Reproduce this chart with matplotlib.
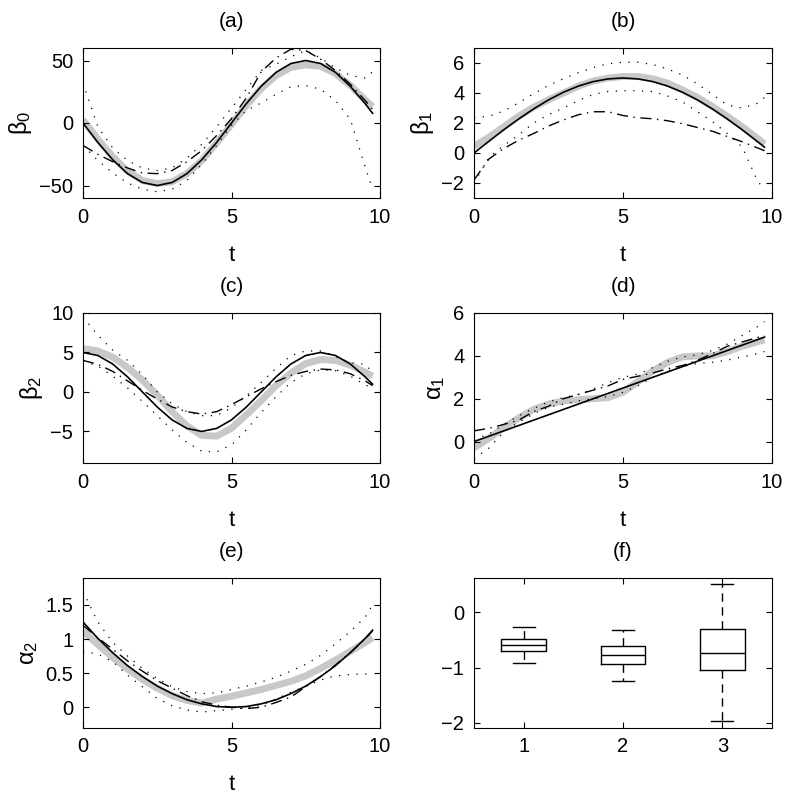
import matplotlib
matplotlib.use('Agg')
import matplotlib.pyplot as plt

plt.rcParams['font.family'] = ['Liberation Sans', 'DejaVu Sans']
plt.rcParams['mathtext.fontset'] = 'custom'
plt.rcParams['mathtext.rm'] = 'Liberation Sans'
plt.rcParams['mathtext.it'] = 'Liberation Sans'
plt.rcParams['mathtext.default'] = 'regular'

# time grid shared by the curve panels
t = [0, 0.5, 1, 1.5, 2, 2.5, 3, 3.5, 4, 4.5, 5, 5.5, 6, 6.5, 7, 7.5, 8, 8.5, 9, 9.5, 9.75]

# (a) beta_0
b0_true = [0, -15.5, -29.4, -40.5, -47.6, -50, -47.6, -40.5, -29.4, -15.5, 0,
           15.5, 29.4, 40.5, 47.6, 50, 47.6, 40.5, 29.4, 15.5, 7.8]
b0_mean = [2.5, -13, -27, -38.5, -46, -48.5, -47, -40.5, -30, -16, -1,
           14, 27.5, 38, 44.5, 46.5, 45.5, 39.5, 30, 18.5, 13]
b0_alt = [-18, -25, -31, -36, -40, -40.5, -38, -31, -22, -10, 3.5,
          20, 41, 52, 59, 58, 51, 42, 31, 18, 11]
b0_up = [32, -3, -20, -30, -36, -38, -36, -28, -17, -3, 12,
         27, 42, 47, 53, 58, 52, 44, 38, 36, 41]
b0_lo = [-18, -30, -40, -48, -53, -55, -53, -46, -33, -18, -2,
         10, 16, 23, 29, 30, 27, 18, 3, -35, -53]

# (b) beta_1
b1_true = [0, 0.78, 1.55, 2.27, 2.94, 3.54, 4.05, 4.46, 4.76, 4.94, 5.0,
           4.94, 4.76, 4.46, 4.05, 3.54, 2.94, 2.27, 1.55, 0.78, 0.39]
b1_mean = [0.45, 1.05, 1.75, 2.45, 3.05, 3.55, 4.0, 4.45, 4.8, 5.0, 5.1,
           5.1, 4.95, 4.65, 4.2, 3.7, 3.1, 2.45, 1.75, 1.0, 0.6]
b1_alt = [-1.8, -0.4, 0.3, 0.85, 1.3, 1.8, 2.2, 2.55, 2.75, 2.75, 2.5,
          2.35, 2.28, 2.15, 1.95, 1.7, 1.45, 1.1, 0.75, 0.35, 0.15]
b1_up = [2.35, 2.45, 2.8, 3.35, 3.95, 4.5, 4.95, 5.35, 5.7, 5.95, 6.05,
         6.05, 5.9, 5.6, 5.2, 4.6, 3.9, 3.2, 3.0, 3.3, 3.7]
b1_lo = [-2.0, -0.3, 0.5, 1.2, 2.0, 2.55, 3.0, 3.5, 3.9, 4.1, 4.15,
         4.15, 4.1, 3.8, 3.4, 2.75, 2.1, 1.3, 0.4, -1.8, -2.5]

# (c) beta_2
b2_true = [5, 4.62, 3.54, 1.91, 0, -1.91, -3.54, -4.62, -5, -4.62, -3.54,
           -1.91, 0, 1.91, 3.54, 4.62, 5, 4.62, 3.54, 1.91, 0.98]
b2_mean = [5.5, 5.2, 4.4, 3.1, 1.5, -0.4, -2.5, -4.3, -5.5, -5.6, -4.6,
           -2.9, -1.1, 0.8, 2.4, 3.6, 4.1, 4.0, 3.4, 2.5, 2.0]
b2_alt = [4.0, 3.5, 2.6, 1.4, 0.2, -0.9, -1.9, -2.5, -2.8, -2.5, -1.6,
          -0.6, 0.4, 1.3, 2.1, 2.6, 2.9, 2.8, 2.3, 1.4, 0.8]
b2_up = [9.5, 7.2, 5.3, 4.0, 2.2, 0.0, -1.5, -2.5, -3.0, -3.0, -2.0,
         -0.5, 1.2, 3.0, 4.6, 5.2, 5.2, 4.5, 3.7, 3.5, 2.5]
b2_lo = [3.9, 3.3, 2.0, 0.5, -1.2, -3.0, -4.8, -6.4, -7.5, -7.6, -6.7,
         -4.8, -2.6, -0.6, 1.2, 2.3, 2.8, 2.7, 2.0, 0.9, 0.5]

# (d) alpha_1
a1_true = [0, 0.25, 0.5, 0.75, 1.0, 1.25, 1.5, 1.75, 2.0, 2.25, 2.5,
           2.75, 3.0, 3.25, 3.5, 3.75, 4.0, 4.25, 4.5, 4.75, 4.875]
a1_mean = [-0.3, 0.15, 0.65, 1.1, 1.5, 1.75, 1.9, 1.95, 2.0, 2.05, 2.3,
           2.8, 3.3, 3.7, 3.95, 4.0, 4.0, 4.2, 4.45, 4.65, 4.75]
a1_alt = [0.5, 0.62, 0.8, 1.0, 1.4, 1.65, 2.0, 2.2, 2.4, 2.6, 2.9,
          3.05, 3.2, 3.4, 3.55, 3.8, 4.1, 4.45, 4.65, 4.85, 4.95]
a1_up = [0.1, 0.35, 0.8, 1.2, 1.55, 1.85, 2.05, 2.2, 2.45, 2.75, 3.0,
         3.15, 3.45, 3.75, 3.95, 4.05, 4.25, 4.55, 4.95, 5.35, 5.6]
a1_lo = [-0.8, -0.3, 0.45, 0.9, 1.3, 1.6, 1.75, 1.9, 2.0, 2.1, 2.3,
         2.6, 3.0, 3.3, 3.5, 3.65, 3.7, 3.8, 3.95, 4.1, 4.2]

# (e) alpha_2
a2_true = [1.25, 1.01, 0.8, 0.61, 0.45, 0.31, 0.2, 0.11, 0.05, 0.01, 0,
           0.01, 0.05, 0.11, 0.2, 0.31, 0.45, 0.61, 0.8, 1.01, 1.13]
a2_mean = [1.12, 0.92, 0.73, 0.56, 0.41, 0.28, 0.17, 0.1, 0.06, 0.12, 0.16,
           0.21, 0.26, 0.32, 0.38, 0.46, 0.57, 0.69, 0.82, 0.95, 1.02]
a2_alt = [1.2, 1.02, 0.85, 0.68, 0.53, 0.39, 0.28, 0.17, 0.08, 0.03, 0.0,
          -0.02, 0.0, 0.07, 0.15, 0.3, 0.45, 0.62, 0.8, 1.0, 1.12]
a2_up = [1.7, 1.25, 0.95, 0.75, 0.57, 0.42, 0.3, 0.23, 0.2, 0.21, 0.26,
         0.31, 0.37, 0.44, 0.53, 0.63, 0.76, 0.93, 1.11, 1.32, 1.5]
a2_lo = [0.82, 0.78, 0.67, 0.47, 0.3, 0.13, 0.02, -0.04, -0.07, -0.05, -0.03,
         -0.01, 0.03, 0.12, 0.22, 0.31, 0.4, 0.46, 0.48, 0.49, 0.45]

# (f) box plots
box_pos = [1, 2, 3]
box_med = [-0.59, -0.78, -0.73]
box_q1 = [-0.70, -0.94, -1.05]
box_q3 = [-0.49, -0.61, -0.30]
box_lo = [-0.92, -1.25, -1.97]
box_hi = [-0.27, -0.32, 0.51]

titles = ['(a)', '(b)', '(c)', '(d)', '(e)', '(f)']
ylabels = [r'$\beta_0$', r'$\beta_1$', r'$\beta_2$', r'$\alpha_1$', r'$\alpha_2$']
ylims = [(-60, 60), (-3, 7), (-9, 10), (-1, 6), (-0.3, 1.9)]
yticks = [[-50, 0, 50], [-2, 0, 2, 4, 6], [-5, 0, 5, 10], [0, 2, 4, 6], [0, 0.5, 1, 1.5]]
yticklabels = [['\u221250', '0', '50'], ['\u22122', '0', '2', '4', '6'],
               ['\u22125', '0', '5', '10'], ['0', '2', '4', '6'],
               ['0', '0.5', '1', '1.5']]
xticks = [0, 5, 10]

curves = [
    (b0_true, b0_mean, b0_alt, b0_up, b0_lo),
    (b1_true, b1_mean, b1_alt, b1_up, b1_lo),
    (b2_true, b2_mean, b2_alt, b2_up, b2_lo),
    (a1_true, a1_mean, a1_alt, a1_up, a1_lo),
    (a2_true, a2_mean, a2_alt, a2_up, a2_lo),
]

fig = plt.figure(figsize=(7.89, 7.99), dpi=100)
W, H = 789.0, 799.0
col_x = [83, 474]
col_w = [297, 298]
row_top = [48, 313, 577.7]
ax_h = 150

axes = []
for i in range(6):
    r, c = divmod(i, 2)
    rect = [col_x[c] / W, 1 - (row_top[r] + ax_h) / H, col_w[c] / W, ax_h / H]
    axes.append(fig.add_axes(rect))


def style(ax):
    ax.tick_params(direction='in', top=True, right=True, length=4, width=0.8,
                   labelsize=14.5, pad=7)
    for s in ax.spines.values():
        s.set_linewidth(0.8)


for i, ax in enumerate(axes[:5]):
    true, mean, alt, up, lo = curves[i]
    ax.plot(t, mean, color='#c8c8c8', lw=5, solid_capstyle='butt', zorder=1)
    ax.plot(t, up, color='k', lw=0.9, linestyle=(0, (1, 6)), zorder=2)
    ax.plot(t, lo, color='k', lw=0.9, linestyle=(0, (1, 6)), zorder=2)
    ax.plot(t, alt, color='k', lw=1.0, linestyle=(0, (8, 4, 1, 4)), zorder=3)
    ax.plot(t, true, color='k', lw=1.2, zorder=4)
    ax.set_xlim(0, 10)
    ax.set_ylim(*ylims[i])
    ax.set_xticks(xticks)
    ax.set_yticks(yticks[i])
    ax.set_yticklabels(yticklabels[i])
    ax.set_xlabel('t', fontsize=16, labelpad=13)
    ax.set_ylabel(ylabels[i], fontsize=17, labelpad=4)
    ax.set_title(titles[i], fontsize=15, pad=15)
    style(ax)

# box plot panel
ax = axes[5]
stats = []
for k in range(len(box_pos)):
    stats.append({'med': box_med[k], 'q1': box_q1[k], 'q3': box_q3[k],
                  'whislo': box_lo[k], 'whishi': box_hi[k], 'fliers': []})
ax.bxp(stats, positions=box_pos, widths=0.45, showfliers=False,
       boxprops=dict(color='k', lw=1.0),
       medianprops=dict(color='k', lw=1.0),
       whiskerprops=dict(color='k', lw=1.0, linestyle=(0, (6, 4))),
       capprops=dict(color='k', lw=1.0), capwidths=0.22)
ax.set_xlim(0.5, 3.5)
ax.set_ylim(-2.09, 0.63)
ax.set_xticks(box_pos)
ax.set_xticklabels(['1', '2', '3'])
ax.set_yticks([-2, -1, 0])
ax.set_yticklabels(['\u22122', '\u22121', '0'])
ax.set_title(titles[5], fontsize=15, pad=15)
style(ax)

fig.savefig('out.png', dpi=100)
